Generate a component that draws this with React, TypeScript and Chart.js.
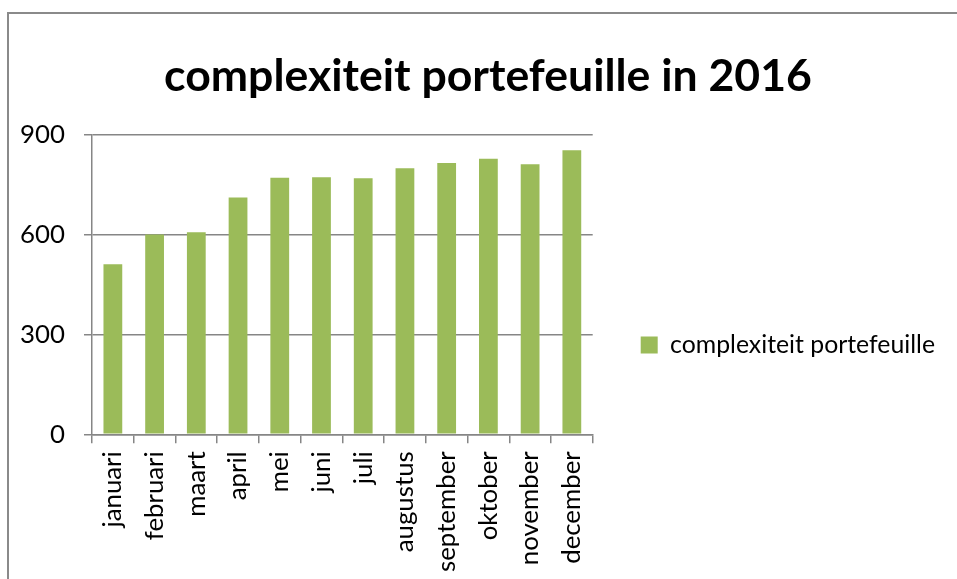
import React, { useEffect, useRef } from "react";
import { Chart, registerables } from "chart.js";

Chart.register(...registerables);

// ---- data ----
const categories = [
  "januari", "februari", "maart", "april", "mei", "juni",
  "juli", "augustus", "september", "oktober", "november", "december",
];
const seriesName = "complexiteit portefeuille";
const values = [511, 600, 607, 711, 771, 772, 769, 799, 815, 828, 811, 853];
const yTicks = [0, 300, 600, 900];
const chartTitle = "complexiteit portefeuille in 2016";

// ---- style ----
const FONT = "Lato";
const GREEN = "#9BBB59";
const GRID = "#868686";

// canvas geometry (px)
const CW = 958;
const CH = 662;
const AREA_LEFT = 83;
const AREA_RIGHT = 585;
const AREA_TOP = 120.7;
const AREA_BOTTOM = 420.3;
const LEGEND_EXTRA = 22;

function measure(text: string, weight: string, size: number) {
  const c = document.createElement("canvas").getContext("2d")!;
  c.font = `${weight} ${size}px ${FONT}`;
  return c.measureText(text).width;
}
function fitSize(text: string, weight: string, target: number) {
  return (100 * target) / measure(text, weight, 100);
}

// lets the right-hand legend be as wide as its text (plus a little room)
const wideLegend = {
  id: "wideLegend",
  beforeUpdate(chart: any) {
    const lg = chart.legend;
    if (lg && !lg.__wide) {
      const origUpdate = lg.update.bind(lg);
      const origFit = lg.fit.bind(lg);
      lg.fit = () => {
        origFit();
        lg.width += LEGEND_EXTRA;
      };
      lg.update = (w: number, h: number, m: any) => origUpdate(Math.max(w, 600), h, m);
      lg.__wide = true;
    }
  },
};

function build(canvas: HTMLCanvasElement) {
  const tickSize = (fitSize("september", "normal", 118) + fitSize("januari", "normal", 78)) / 2;
  const legendSize = fitSize(seriesName, "normal", 265);
  const titleSize = fitSize(chartTitle, "bold", 648);
  const titleMid = 91 - 14 - 0.32 * titleSize;
  const titleTop = titleMid - 0.6 * titleSize;
  const titleBottom = AREA_TOP - titleTop - 1.2 * titleSize;

  const legendPad = 48;
  const box = 17;
  const itemW = box + legendSize / 2 + measure(seriesName, "normal", legendSize);
  const padR = Math.max(0, CW - AREA_RIGHT - (legendPad + itemW + 10 + LEGEND_EXTRA));

  const chart = new Chart(canvas, {
    type: "bar",
    plugins: [wideLegend],
    data: {
      labels: categories,
      datasets: [
        {
          label: seriesName,
          data: values,
          backgroundColor: GREEN,
          borderWidth: 0,
          barPercentage: 0.45,
          categoryPercentage: 1,
        },
      ],
    },
    options: {
      animation: false,
      responsive: false,
      devicePixelRatio: 1,
      layout: { padding: { left: 0, top: 0, bottom: 0, right: padR } },
      plugins: {
        title: {
          display: true,
          text: chartTitle,
          color: "#000",
          font: { family: FONT, weight: "bold", size: titleSize, lineHeight: 1.2 },
          padding: { top: titleTop, bottom: titleBottom },
        },
        legend: {
          display: true,
          position: "right",
          labels: {
            boxWidth: box,
            boxHeight: box,
            padding: legendPad,
            color: "#000",
            font: { family: FONT, size: legendSize },
          },
        },
        tooltip: { enabled: false },
      },
      scales: {
        x: {
          offset: true,
          grid: {
            display: true,
            drawOnChartArea: false,
            drawTicks: true,
            tickLength: 9,
            color: GRID,
            lineWidth: 1.5,
            offset: true,
          },
          border: { display: true, color: GRID, width: 1.5 },
          ticks: {
            autoSkip: false,
            minRotation: 90,
            maxRotation: 90,
            padding: 8,
            color: "#000",
            font: { family: FONT, size: tickSize },
          },
          afterFit: (s: any) => {
            s.height = CH - AREA_BOTTOM;
          },
        },
        y: {
          min: yTicks[0],
          max: yTicks[yTicks.length - 1],
          afterBuildTicks: (s: any) => {
            s.ticks = yTicks.map((v) => ({ value: v }));
          },
          grid: {
            display: true,
            drawTicks: true,
            tickLength: 8,
            color: GRID,
            lineWidth: 1.5,
          },
          border: { display: true, color: GRID, width: 1.5 },
          ticks: {
            padding: 19,
            color: "#000",
            font: { family: FONT, size: tickSize },
          },
          afterFit: (s: any) => {
            s.width = AREA_LEFT;
          },
        },
      },
    },
  });

  const dr = chart.chartArea.right - AREA_RIGHT;
  if (Math.abs(dr) > 0.5) {
    (chart.options.layout!.padding as any).right = Math.max(0, padR + dr);
    chart.update();
  }
  return chart;
}

export default function App() {
  const ref = useRef<HTMLCanvasElement | null>(null);

  useEffect(() => {
    let chart: Chart | null = null;
    let cancelled = false;
    const fonts = (document as any).fonts;
    const ready = fonts
      ? Promise.all([
          fonts.load(`100px ${FONT}`),
          fonts.load(`bold 100px ${FONT}`),
        ]).catch(() => null)
      : Promise.resolve(null);
    ready.then(() => {
      if (cancelled || !ref.current) return;
      chart = build(ref.current);
    });
    return () => {
      cancelled = true;
      if (chart) chart.destroy();
    };
  }, []);

  return (
    <div
      style={{
        position: "fixed",
        left: 0,
        top: 0,
        width: 957,
        height: 579,
        overflow: "hidden",
        background: "#fff",
      }}
    >
      <div
        style={{
          position: "absolute",
          left: 7,
          top: 12,
          width: 966,
          height: 700,
          border: "2px solid #8a8a8a",
          boxSizing: "border-box",
        }}
      />
      <canvas
        ref={ref}
        width={CW}
        height={CH}
        style={{ position: "absolute", left: 9, top: 14, width: CW, height: CH }}
      />
    </div>
  );
}
